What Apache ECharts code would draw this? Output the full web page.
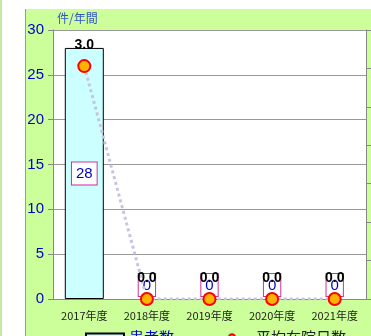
<!DOCTYPE html>
<html>
<head>
<meta charset="utf-8">
<script src="https://cdn.jsdelivr.net/npm/echarts@6/dist/echarts.min.js"></script>
<style>
  html, body { margin: 0; padding: 0; background: #fff; }
  #wrap { position: relative; width: 371px; height: 336px; overflow: hidden; }
  #edge { position: absolute; left: 0; top: 0; width: 2px; height: 336px; background: #C6E8A4; }
  #panel { position: absolute; left: 25px; top: 9px; right: 0; bottom: 0; background: #CCFF99; border-left: 1px solid #999; }
  #chart { position: absolute; left: 0; top: 0; width: 371px; height: 336px; }
</style>
</head>
<body>
<div id="wrap">
  <div id="edge"></div>
  <div id="panel"></div>
  <div id="chart"></div>
</div>
<script>
const categories = ["2017年度", "2018年度", "2019年度", "2020年度", "2021年度"];
const patients = [28, 0, 0, 0, 0];
const avgStay = [3.03, 0, 0, 0, 0];
const unitLabel = "件/年間";

const chart = echarts.init(document.getElementById("chart"));

const boxLabel = {
  show: true,
  color: "#0000CC",
  fontSize: 15,
  fontFamily: "Liberation Sans",
  backgroundColor: "#fff",
  borderColor: "#CC3399",
  borderWidth: 1,
  padding: [4, 4, 3, 4],
};

const option = {
  animation: false,
  textStyle: { fontFamily: "Liberation Sans" },
  grid: {
    left: 53, right: 5, top: 30, bottom: 37,
    show: true, backgroundColor: "#fff", borderWidth: 0,
  },
  graphic: [{
    type: "text", left: 57, top: 12,
    style: { text: unitLabel, fill: "#3355CC", fontSize: 12, fontFamily: "Noto Sans CJK JP" },
  }],
  legend: {
    left: 80, top: 325, itemGap: 38, itemWidth: 38, itemHeight: 8,
    textStyle: { fontSize: 15, fontFamily: "Noto Sans CJK JP" },
    data: [
      { name: "患者数", icon: "rect", textStyle: { color: "#0000CC" } },
      { name: "平均在院日数", textStyle: { color: "#222" } },
    ],
  },
  xAxis: {
    type: "category",
    data: categories,
    axisLine: { lineStyle: { color: "#888" } },
    axisTick: { lineStyle: { color: "#888" }, length: 5 },
    axisLabel: { color: "#222", fontSize: 11, margin: 11, fontFamily: "Noto Sans CJK JP" },
  },
  yAxis: [
    {
      type: "value", min: 0, max: 30, interval: 5,
      axisLine: { show: true, lineStyle: { color: "#888" } },
      axisTick: { show: true, length: 5, lineStyle: { color: "#888" } },
      axisLabel: { color: "#0000CC", fontSize: 15, margin: 9 },
      splitLine: { lineStyle: { color: "#999" } },
    },
    {
      type: "value", min: 0, max: 3.5, interval: 0.5, position: "right",
      axisLine: { show: true, lineStyle: { color: "#888" } },
      axisTick: { show: true, length: 5, lineStyle: { color: "#888" } },
      axisLabel: { show: false },
      splitLine: { show: false },
    },
  ],
  series: [
    {
      name: "患者数",
      type: "bar",
      barWidth: 39,
      itemStyle: { color: "#CCFFFF", borderColor: "#000", borderWidth: 1 },
      data: patients.map(v => ({
        value: v,
        itemStyle: v > 0 ? {} : { borderWidth: 0 },
        label: Object.assign({}, boxLabel, v > 0 ? { position: "inside" } : { position: "top", distance: 3 }),
      })),
      z: 2,
    },
    {
      name: "平均在院日数",
      type: "line",
      yAxisIndex: 1,
      data: avgStay,
      symbol: "circle",
      symbolSize: 12,
      lineStyle: { type: "dotted", color: "#C8C3E0", width: 3 },
      itemStyle: { color: "#FFB300", borderColor: "#FF0000", borderWidth: 2 },
      label: {
        show: true, position: "top", distance: 7,
        color: "#000", fontWeight: "bold", fontSize: 14,
        formatter: p => p.value.toFixed(1),
      },
      z: 3,
    },
  ],
};

chart.setOption(option);
window.addEventListener("resize", () => chart.resize());
</script>
</body>
</html>
